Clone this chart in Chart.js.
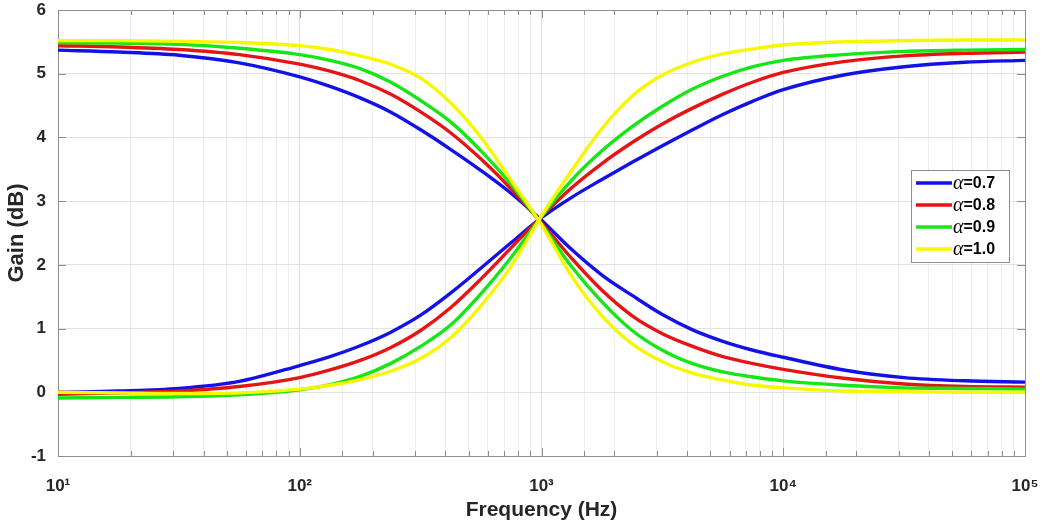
<!DOCTYPE html>
<html>
<head>
<meta charset="utf-8">
<script src="https://cdn.jsdelivr.net/npm/chart.js@4/dist/chart.umd.min.js"></script>
<style>
html,body{margin:0;padding:0;background:#ffffff;}
#wrap{width:1048px;height:528px;}
</style>
</head>
<body>
<div id="wrap"><canvas id="c" width="1048" height="528"></canvas></div>
<script>
// ---------- data ----------
const freqs = [10, 17.78, 31.62, 56.23, 100, 133.4, 177.8, 237.1, 316.2, 421.7, 562.3, 749.9, 1000,
  1333.5, 1778.3, 2371.4, 3162.3, 4217, 5623.4, 7498.9, 10000, 17783, 31623, 56234, 100000];

const alphaValues = ['0.7', '0.8', '0.9', '1.0'];

// decreasing (low-pass) curves
const lowPass07 = [5.37, 5.34, 5.29, 5.17, 4.95, 4.80, 4.62, 4.40, 4.12, 3.81, 3.48, 3.12, 2.70,
  2.24, 1.84, 1.52, 1.22, 0.98, 0.80, 0.66, 0.55, 0.35, 0.23, 0.18, 0.16];
const lowPass08 = [5.44, 5.42, 5.38, 5.30, 5.15, 5.04, 4.89, 4.68, 4.40, 4.07, 3.66, 3.19, 2.66,
  2.10, 1.60, 1.20, 0.92, 0.72, 0.56, 0.45, 0.36, 0.22, 0.13, 0.09, 0.08];
const lowPass09 = [5.49, 5.48, 5.46, 5.40, 5.30, 5.21, 5.08, 4.87, 4.58, 4.24, 3.79, 3.26, 2.64,
  1.97, 1.42, 0.97, 0.66, 0.45, 0.32, 0.24, 0.18, 0.11, 0.07, 0.06, 0.05];
const lowPass10 = [5.52, 5.52, 5.51, 5.49, 5.44, 5.38, 5.28, 5.15, 4.93, 4.54, 4.00, 3.32, 2.63,
  1.82, 1.20, 0.76, 0.48, 0.30, 0.19, 0.11, 0.07, 0.02, 0.01, 0.00, 0.00];

// increasing (high-pass) curves
const highPass07 = [0.00, 0.02, 0.06, 0.17, 0.42, 0.56, 0.73, 0.94, 1.21, 1.56, 1.95, 2.35, 2.74,
  3.06, 3.34, 3.61, 3.87, 4.12, 4.36, 4.57, 4.75, 4.98, 5.11, 5.18, 5.21];
const highPass08 = [-0.03, -0.01, 0.02, 0.09, 0.23, 0.35, 0.50, 0.70, 0.97, 1.33, 1.78, 2.27, 2.76,
  3.21, 3.59, 3.92, 4.21, 4.46, 4.68, 4.87, 5.02, 5.19, 5.28, 5.32, 5.34];
const highPass09 = [-0.09, -0.08, -0.07, -0.04, 0.04, 0.12, 0.25, 0.45, 0.72, 1.06, 1.55, 2.12, 2.76,
  3.33, 3.79, 4.17, 4.49, 4.76, 4.96, 5.11, 5.21, 5.30, 5.35, 5.37, 5.38];
const highPass10 = [0.00, -0.01, -0.02, -0.01, 0.05, 0.11, 0.20, 0.33, 0.53, 0.86, 1.36, 1.98, 2.77,
  3.48, 4.14, 4.65, 4.98, 5.18, 5.31, 5.39, 5.45, 5.50, 5.52, 5.53, 5.53];

const xTickPowers = [1, 2, 3, 4, 5];
const xTickLabels = ['10\u00B9', '10\u00B2', '10\u00B3', '10\u2074', '10\u2075'];
const yMin = -1, yMax = 6, yStep = 1;
const xMin = 10, xMax = 100000;

// ---------- styles ----------
const seriesColors = ['#1212e6', '#e61414', '#16e616', '#f7f700'];
const FONT = "'Liberation Sans', Arial, Helvetica, sans-serif";
const TEXT = '#262626';

const lowSets = [lowPass07, lowPass08, lowPass09, lowPass10];
const highSets = [highPass07, highPass08, highPass09, highPass10];

function pts(arr) { return freqs.map((f, i) => ({x: f, y: arr[i]})); }

const datasets = [];
for (let i = 0; i < 4; i++) {
  [lowSets[i], highSets[i]].forEach(arr => {
    datasets.push({
      label: '\u03B1=' + alphaValues[i],
      data: pts(arr),
      borderColor: seriesColors[i],
      backgroundColor: seriesColors[i],
      borderWidth: 3.4,
      pointRadius: 0,
      fill: false,
      cubicInterpolationMode: 'monotone',
      order: 4 - i
    });
  });
}

function isDecade(v) {
  const l = Math.log10(v);
  return Math.abs(l - Math.round(l)) < 1e-9;
}

const framePlugin = {
  id: 'frame',
  beforeDatasetsDraw(chart) {
    const {ctx, chartArea: a, scales} = chart;
    ctx.save();
    ctx.strokeStyle = '#8e8e8e';
    ctx.lineWidth = 1;
    ctx.beginPath();
    scales.y.ticks.forEach(t => {
      const py = Math.round(scales.y.getPixelForValue(t.value)) + 0.5;
      ctx.moveTo(a.left, py); ctx.lineTo(a.left + 8, py);
      ctx.moveTo(a.right, py); ctx.lineTo(a.right - 8, py);
    });
    scales.x.ticks.forEach(t => {
      const px = Math.round(scales.x.getPixelForValue(t.value)) + 0.5;
      const len = isDecade(t.value) ? 8 : 5;
      ctx.moveTo(px, a.bottom); ctx.lineTo(px, a.bottom - len);
      ctx.moveTo(px, a.top); ctx.lineTo(px, a.top + len);
    });
    ctx.stroke();
    ctx.strokeRect(Math.round(a.left) + 0.5, Math.round(a.top) + 0.5,
      Math.round(a.right - a.left), Math.round(a.bottom - a.top));
    ctx.restore();
  },
  afterDatasetsDraw(chart) {
    const {ctx, chartArea: a} = chart;
    const bx = a.right - 114, by = a.top + 160, bw = 98, bh = 92;
    ctx.save();
    ctx.fillStyle = '#ffffff';
    ctx.fillRect(bx, by, bw, bh);
    ctx.strokeStyle = '#8e8e8e';
    ctx.lineWidth = 1;
    ctx.strokeRect(bx + 0.5, by + 0.5, bw, bh);
    for (let i = 0; i < alphaValues.length; i++) {
      const cy = by + 13 + i * 22;
      ctx.strokeStyle = seriesColors[i];
      ctx.lineWidth = 3.4;
      ctx.beginPath();
      ctx.moveTo(bx + 5, cy); ctx.lineTo(bx + 41, cy);
      ctx.stroke();
      ctx.fillStyle = '#000000';
      ctx.textBaseline = 'middle';
      ctx.textAlign = 'left';
      ctx.font = "italic 20px 'Liberation Serif', 'Times New Roman', serif";
      ctx.fillText('\u03B1', bx + 42, cy + 1);
      const aw = ctx.measureText('\u03B1').width;
      ctx.font = "bold 16px " + FONT;
      ctx.fillText('=' + alphaValues[i], bx + 42 + aw, cy + 1);
    }
    ctx.restore();
  }
};

new Chart(document.getElementById('c'), {
  type: 'line',
  data: {datasets},
  plugins: [framePlugin],
  options: {
    responsive: false,
    animation: false,
    devicePixelRatio: 1,
    layout: {padding: {left: 0, right: 23, top: 10, bottom: 0}},
    plugins: {legend: {display: false}, tooltip: {enabled: false}},
    scales: {
      x: {
        type: 'logarithmic',
        min: xMin, max: xMax,
        afterFit(s) { s.height = 72; s.paddingLeft = 0; s.paddingRight = 0; },
        border: {display: false},
        grid: {
          drawTicks: false,
          lineWidth: 1,
          color: ctx => (ctx.tick && isDecade(ctx.tick.value)) ? '#dedede' : '#eeeeee'
        },
        ticks: {
          autoSkip: false, maxRotation: 0, minRotation: 0, padding: 20,
          color: TEXT, font: {family: FONT, size: 17, weight: 'bold'},
          callback(v) {
            if (!isDecade(v)) return '';
            const idx = xTickPowers.indexOf(Math.round(Math.log10(v)));
            return idx >= 0 ? xTickLabels[idx] : '';
          }
        },
        title: {display: true, text: 'Frequency (Hz)', color: TEXT,
          font: {family: FONT, size: 21, weight: 'bold'}, padding: 5}
      },
      y: {
        min: yMin, max: yMax,
        afterFit(s) { s.width = 58; s.paddingTop = 0; s.paddingBottom = 0; },
        border: {display: false},
        grid: {drawTicks: false, lineWidth: 1, color: '#e2e2e2'},
        ticks: {stepSize: yStep, padding: 12, color: TEXT,
          font: {family: FONT, size: 17, weight: 'bold'}},
        title: {display: true, text: 'Gain (dB)', color: TEXT,
          font: {family: FONT, size: 22, weight: 'bold'}, padding: 4}
      }
    }
  }
});
</script>
</body>
</html>
